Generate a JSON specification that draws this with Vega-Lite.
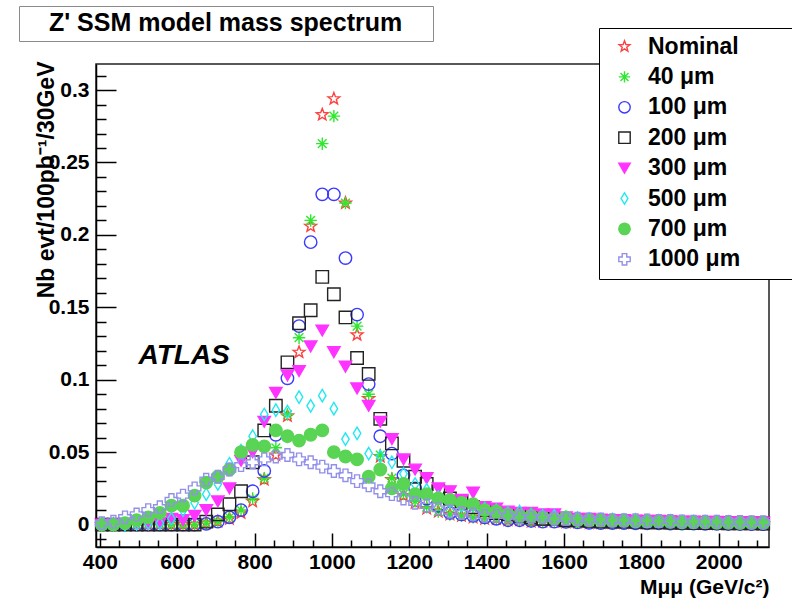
{
"$schema": "https://vega.github.io/schema/vega-lite/v6.json",
"background": "white",
"padding": {"left": 18, "top": 5, "right": 5, "bottom": 3},
"config": {"font": "Liberation Sans"},
"width": 673, "height": 483,
"view": {"stroke": "#222222", "strokeWidth": 1.5},
"resolve": {"axis": {"x": "independent", "y": "independent"}},
"datasets": {"pts": [
{"s":"Nominal","m":405,"v":0},{"s":"Nominal","m":435,"v":0},{"s":"Nominal","m":465,"v":0},{"s":"Nominal","m":495,"v":0},{"s":"Nominal","m":525,"v":0},{"s":"Nominal","m":555,"v":0},{"s":"Nominal","m":585,"v":0},{"s":"Nominal","m":615,"v":0},{"s":"Nominal","m":645,"v":0},{"s":"Nominal","m":675,"v":0.001},
{"s":"Nominal","m":705,"v":0.002},{"s":"Nominal","m":735,"v":0.004},{"s":"Nominal","m":765,"v":0.008},{"s":"Nominal","m":795,"v":0.016},{"s":"Nominal","m":825,"v":0.031},{"s":"Nominal","m":855,"v":0.048},{"s":"Nominal","m":885,"v":0.075},{"s":"Nominal","m":915,"v":0.119},{"s":"Nominal","m":945,"v":0.206},{"s":"Nominal","m":975,"v":0.283},
{"s":"Nominal","m":1005,"v":0.294},{"s":"Nominal","m":1035,"v":0.222},{"s":"Nominal","m":1065,"v":0.131},{"s":"Nominal","m":1095,"v":0.087},{"s":"Nominal","m":1125,"v":0.047},{"s":"Nominal","m":1155,"v":0.031},{"s":"Nominal","m":1185,"v":0.020},{"s":"Nominal","m":1215,"v":0.015},{"s":"Nominal","m":1245,"v":0.011},{"s":"Nominal","m":1275,"v":0.009},
{"s":"Nominal","m":1305,"v":0.007},{"s":"Nominal","m":1335,"v":0.006},{"s":"Nominal","m":1365,"v":0.005},{"s":"Nominal","m":1395,"v":0.004},{"s":"Nominal","m":1425,"v":0.004},{"s":"Nominal","m":1455,"v":0.003},{"s":"Nominal","m":1485,"v":0.003},{"s":"Nominal","m":1515,"v":0.002},{"s":"Nominal","m":1545,"v":0.002},{"s":"Nominal","m":1575,"v":0.002},
{"s":"Nominal","m":1605,"v":0.0015},{"s":"Nominal","m":1635,"v":0.0015},{"s":"Nominal","m":1665,"v":0.001},{"s":"Nominal","m":1695,"v":0.001},{"s":"Nominal","m":1725,"v":0.001},{"s":"Nominal","m":1755,"v":0.001},{"s":"Nominal","m":1785,"v":0.001},{"s":"Nominal","m":1815,"v":0.0008},{"s":"Nominal","m":1845,"v":0.0008},{"s":"Nominal","m":1875,"v":0.0006},
{"s":"Nominal","m":1905,"v":0.0006},{"s":"Nominal","m":1935,"v":0.0005},{"s":"Nominal","m":1965,"v":0.0005},{"s":"Nominal","m":1995,"v":0.0004},{"s":"Nominal","m":2025,"v":0.0004},{"s":"Nominal","m":2055,"v":0.0003},{"s":"Nominal","m":2085,"v":0.0003},{"s":"Nominal","m":2115,"v":0.0003},
{"s":"40 μm","m":405,"v":0},{"s":"40 μm","m":435,"v":0},{"s":"40 μm","m":465,"v":0},{"s":"40 μm","m":495,"v":0},{"s":"40 μm","m":525,"v":0},{"s":"40 μm","m":555,"v":0},{"s":"40 μm","m":585,"v":0},{"s":"40 μm","m":615,"v":0},{"s":"40 μm","m":645,"v":0},{"s":"40 μm","m":675,"v":0.001},
{"s":"40 μm","m":705,"v":0.002},{"s":"40 μm","m":735,"v":0.005},{"s":"40 μm","m":765,"v":0.010},{"s":"40 μm","m":795,"v":0.018},{"s":"40 μm","m":825,"v":0.032},{"s":"40 μm","m":855,"v":0.053},{"s":"40 μm","m":885,"v":0.076},{"s":"40 μm","m":915,"v":0.129},{"s":"40 μm","m":945,"v":0.210},{"s":"40 μm","m":975,"v":0.263},
{"s":"40 μm","m":1005,"v":0.282},{"s":"40 μm","m":1035,"v":0.222},{"s":"40 μm","m":1065,"v":0.137},{"s":"40 μm","m":1095,"v":0.090},{"s":"40 μm","m":1125,"v":0.048},{"s":"40 μm","m":1155,"v":0.032},{"s":"40 μm","m":1185,"v":0.021},{"s":"40 μm","m":1215,"v":0.016},{"s":"40 μm","m":1245,"v":0.012},{"s":"40 μm","m":1275,"v":0.009},
{"s":"40 μm","m":1305,"v":0.007},{"s":"40 μm","m":1335,"v":0.006},{"s":"40 μm","m":1365,"v":0.005},{"s":"40 μm","m":1395,"v":0.004},{"s":"40 μm","m":1425,"v":0.004},{"s":"40 μm","m":1455,"v":0.003},{"s":"40 μm","m":1485,"v":0.003},{"s":"40 μm","m":1515,"v":0.002},{"s":"40 μm","m":1545,"v":0.002},{"s":"40 μm","m":1575,"v":0.002},
{"s":"40 μm","m":1605,"v":0.0015},{"s":"40 μm","m":1635,"v":0.0015},{"s":"40 μm","m":1665,"v":0.001},{"s":"40 μm","m":1695,"v":0.001},{"s":"40 μm","m":1725,"v":0.001},{"s":"40 μm","m":1755,"v":0.001},{"s":"40 μm","m":1785,"v":0.001},{"s":"40 μm","m":1815,"v":0.0008},{"s":"40 μm","m":1845,"v":0.0008},{"s":"40 μm","m":1875,"v":0.0006},
{"s":"40 μm","m":1905,"v":0.0006},{"s":"40 μm","m":1935,"v":0.0005},{"s":"40 μm","m":1965,"v":0.0005},{"s":"40 μm","m":1995,"v":0.0004},{"s":"40 μm","m":2025,"v":0.0004},{"s":"40 μm","m":2055,"v":0.0003},{"s":"40 μm","m":2085,"v":0.0003},{"s":"40 μm","m":2115,"v":0.0003},
{"s":"100 μm","m":405,"v":0},{"s":"100 μm","m":435,"v":0},{"s":"100 μm","m":465,"v":0},{"s":"100 μm","m":495,"v":0},{"s":"100 μm","m":525,"v":0},{"s":"100 μm","m":555,"v":0},{"s":"100 μm","m":585,"v":0},{"s":"100 μm","m":615,"v":0},{"s":"100 μm","m":645,"v":0},{"s":"100 μm","m":675,"v":0.0005},
{"s":"100 μm","m":705,"v":0.002},{"s":"100 μm","m":735,"v":0.005},{"s":"100 μm","m":765,"v":0.010},{"s":"100 μm","m":795,"v":0.023},{"s":"100 μm","m":825,"v":0.037},{"s":"100 μm","m":855,"v":0.062},{"s":"100 μm","m":885,"v":0.101},{"s":"100 μm","m":915,"v":0.137},{"s":"100 μm","m":945,"v":0.195},{"s":"100 μm","m":975,"v":0.228},
{"s":"100 μm","m":1005,"v":0.228},{"s":"100 μm","m":1035,"v":0.184},{"s":"100 μm","m":1065,"v":0.145},{"s":"100 μm","m":1095,"v":0.097},{"s":"100 μm","m":1125,"v":0.061},{"s":"100 μm","m":1155,"v":0.049},{"s":"100 μm","m":1185,"v":0.034},{"s":"100 μm","m":1215,"v":0.025},{"s":"100 μm","m":1245,"v":0.018},{"s":"100 μm","m":1275,"v":0.013},
{"s":"100 μm","m":1305,"v":0.008},{"s":"100 μm","m":1335,"v":0.007},{"s":"100 μm","m":1365,"v":0.006},{"s":"100 μm","m":1395,"v":0.005},{"s":"100 μm","m":1425,"v":0.004},{"s":"100 μm","m":1455,"v":0.003},{"s":"100 μm","m":1485,"v":0.003},{"s":"100 μm","m":1515,"v":0.0025},{"s":"100 μm","m":1545,"v":0.002},{"s":"100 μm","m":1575,"v":0.002},
{"s":"100 μm","m":1605,"v":0.0018},{"s":"100 μm","m":1635,"v":0.0015},{"s":"100 μm","m":1665,"v":0.0012},{"s":"100 μm","m":1695,"v":0.001},{"s":"100 μm","m":1725,"v":0.001},{"s":"100 μm","m":1755,"v":0.001},{"s":"100 μm","m":1785,"v":0.0009},{"s":"100 μm","m":1815,"v":0.0008},{"s":"100 μm","m":1845,"v":0.0008},{"s":"100 μm","m":1875,"v":0.0007},
{"s":"100 μm","m":1905,"v":0.0006},{"s":"100 μm","m":1935,"v":0.0006},{"s":"100 μm","m":1965,"v":0.0005},{"s":"100 μm","m":1995,"v":0.0005},{"s":"100 μm","m":2025,"v":0.0004},{"s":"100 μm","m":2055,"v":0.0004},{"s":"100 μm","m":2085,"v":0.0003},{"s":"100 μm","m":2115,"v":0.0003},
{"s":"200 μm","m":405,"v":0},{"s":"200 μm","m":435,"v":0},{"s":"200 μm","m":465,"v":0},{"s":"200 μm","m":495,"v":0},{"s":"200 μm","m":525,"v":0},{"s":"200 μm","m":555,"v":0},{"s":"200 μm","m":585,"v":0},{"s":"200 μm","m":615,"v":0},{"s":"200 μm","m":645,"v":0},{"s":"200 μm","m":675,"v":0.002},
{"s":"200 μm","m":705,"v":0.007},{"s":"200 μm","m":735,"v":0.014},{"s":"200 μm","m":765,"v":0.023},{"s":"200 μm","m":795,"v":0.043},{"s":"200 μm","m":825,"v":0.065},{"s":"200 μm","m":855,"v":0.082},{"s":"200 μm","m":885,"v":0.112},{"s":"200 μm","m":915,"v":0.139},{"s":"200 μm","m":945,"v":0.148},{"s":"200 μm","m":975,"v":0.171},
{"s":"200 μm","m":1005,"v":0.159},{"s":"200 μm","m":1035,"v":0.143},{"s":"200 μm","m":1065,"v":0.115},{"s":"200 μm","m":1095,"v":0.104},{"s":"200 μm","m":1125,"v":0.073},{"s":"200 μm","m":1155,"v":0.056},{"s":"200 μm","m":1185,"v":0.044},{"s":"200 μm","m":1215,"v":0.033},{"s":"200 μm","m":1245,"v":0.028},{"s":"200 μm","m":1275,"v":0.023},
{"s":"200 μm","m":1305,"v":0.018},{"s":"200 μm","m":1335,"v":0.016},{"s":"200 μm","m":1365,"v":0.012},{"s":"200 μm","m":1395,"v":0.010},{"s":"200 μm","m":1425,"v":0.008},{"s":"200 μm","m":1455,"v":0.007},{"s":"200 μm","m":1485,"v":0.006},{"s":"200 μm","m":1515,"v":0.005},{"s":"200 μm","m":1545,"v":0.004},{"s":"200 μm","m":1575,"v":0.004},
{"s":"200 μm","m":1605,"v":0.003},{"s":"200 μm","m":1635,"v":0.003},{"s":"200 μm","m":1665,"v":0.0025},{"s":"200 μm","m":1695,"v":0.002},{"s":"200 μm","m":1725,"v":0.002},{"s":"200 μm","m":1755,"v":0.002},{"s":"200 μm","m":1785,"v":0.0018},{"s":"200 μm","m":1815,"v":0.0015},{"s":"200 μm","m":1845,"v":0.0015},{"s":"200 μm","m":1875,"v":0.0013},
{"s":"200 μm","m":1905,"v":0.0012},{"s":"200 μm","m":1935,"v":0.001},{"s":"200 μm","m":1965,"v":0.001},{"s":"200 μm","m":1995,"v":0.001},{"s":"200 μm","m":2025,"v":0.0009},{"s":"200 μm","m":2055,"v":0.0008},{"s":"200 μm","m":2085,"v":0.0008},{"s":"200 μm","m":2115,"v":0.0007},
{"s":"300 μm","m":405,"v":0},{"s":"300 μm","m":435,"v":0},{"s":"300 μm","m":465,"v":0},{"s":"300 μm","m":495,"v":0},{"s":"300 μm","m":525,"v":0},{"s":"300 μm","m":555,"v":0.001},{"s":"300 μm","m":585,"v":0.004},{"s":"300 μm","m":615,"v":0.003},{"s":"300 μm","m":645,"v":0.006},{"s":"300 μm","m":675,"v":0.010},
{"s":"300 μm","m":705,"v":0.016},{"s":"300 μm","m":735,"v":0.025},{"s":"300 μm","m":765,"v":0.044},{"s":"300 μm","m":795,"v":0.050},{"s":"300 μm","m":825,"v":0.071},{"s":"300 μm","m":855,"v":0.091},{"s":"300 μm","m":885,"v":0.103},{"s":"300 μm","m":915,"v":0.106},{"s":"300 μm","m":945,"v":0.123},{"s":"300 μm","m":975,"v":0.134},
{"s":"300 μm","m":1005,"v":0.119},{"s":"300 μm","m":1035,"v":0.109},{"s":"300 μm","m":1065,"v":0.094},{"s":"300 μm","m":1095,"v":0.082},{"s":"300 μm","m":1125,"v":0.071},{"s":"300 μm","m":1155,"v":0.059},{"s":"300 μm","m":1185,"v":0.045},{"s":"300 μm","m":1215,"v":0.038},{"s":"300 μm","m":1245,"v":0.032},{"s":"300 μm","m":1275,"v":0.025},
{"s":"300 μm","m":1305,"v":0.023},{"s":"300 μm","m":1335,"v":0.017},{"s":"300 μm","m":1365,"v":0.022},{"s":"300 μm","m":1395,"v":0.012},{"s":"300 μm","m":1425,"v":0.011},{"s":"300 μm","m":1455,"v":0.009},{"s":"300 μm","m":1485,"v":0.008},{"s":"300 μm","m":1515,"v":0.008},{"s":"300 μm","m":1545,"v":0.007},{"s":"300 μm","m":1575,"v":0.007},
{"s":"300 μm","m":1605,"v":0.005},{"s":"300 μm","m":1635,"v":0.004},{"s":"300 μm","m":1665,"v":0.004},{"s":"300 μm","m":1695,"v":0.0035},{"s":"300 μm","m":1725,"v":0.003},{"s":"300 μm","m":1755,"v":0.003},{"s":"300 μm","m":1785,"v":0.0028},{"s":"300 μm","m":1815,"v":0.0025},{"s":"300 μm","m":1845,"v":0.0025},{"s":"300 μm","m":1875,"v":0.0022},
{"s":"300 μm","m":1905,"v":0.002},{"s":"300 μm","m":1935,"v":0.002},{"s":"300 μm","m":1965,"v":0.0018},{"s":"300 μm","m":1995,"v":0.0018},{"s":"300 μm","m":2025,"v":0.0016},{"s":"300 μm","m":2055,"v":0.0015},{"s":"300 μm","m":2085,"v":0.0015},{"s":"300 μm","m":2115,"v":0.0014},
{"s":"500 μm","m":405,"v":0},{"s":"500 μm","m":435,"v":0},{"s":"500 μm","m":465,"v":0},{"s":"500 μm","m":495,"v":0.0005},{"s":"500 μm","m":525,"v":0.001},{"s":"500 μm","m":555,"v":0.001},{"s":"500 μm","m":585,"v":0.004},{"s":"500 μm","m":615,"v":0.010},{"s":"500 μm","m":645,"v":0.015},{"s":"500 μm","m":675,"v":0.021},
{"s":"500 μm","m":705,"v":0.028},{"s":"500 μm","m":735,"v":0.042},{"s":"500 μm","m":765,"v":0.051},{"s":"500 μm","m":795,"v":0.061},{"s":"500 μm","m":825,"v":0.076},{"s":"500 μm","m":855,"v":0.079},{"s":"500 μm","m":885,"v":0.078},{"s":"500 μm","m":915,"v":0.088},{"s":"500 μm","m":945,"v":0.082},{"s":"500 μm","m":975,"v":0.089},
{"s":"500 μm","m":1005,"v":0.080},{"s":"500 μm","m":1035,"v":0.059},{"s":"500 μm","m":1065,"v":0.063},{"s":"500 μm","m":1095,"v":0.049},{"s":"500 μm","m":1125,"v":0.047},{"s":"500 μm","m":1155,"v":0.043},{"s":"500 μm","m":1185,"v":0.035},{"s":"500 μm","m":1215,"v":0.028},{"s":"500 μm","m":1245,"v":0.024},{"s":"500 μm","m":1275,"v":0.019},
{"s":"500 μm","m":1305,"v":0.016},{"s":"500 μm","m":1335,"v":0.013},{"s":"500 μm","m":1365,"v":0.013},{"s":"500 μm","m":1395,"v":0.011},{"s":"500 μm","m":1425,"v":0.010},{"s":"500 μm","m":1455,"v":0.008},{"s":"500 μm","m":1485,"v":0.009},{"s":"500 μm","m":1515,"v":0.007},{"s":"500 μm","m":1545,"v":0.006},{"s":"500 μm","m":1575,"v":0.006},
{"s":"500 μm","m":1605,"v":0.005},{"s":"500 μm","m":1635,"v":0.0045},{"s":"500 μm","m":1665,"v":0.004},{"s":"500 μm","m":1695,"v":0.0035},{"s":"500 μm","m":1725,"v":0.0035},{"s":"500 μm","m":1755,"v":0.003},{"s":"500 μm","m":1785,"v":0.003},{"s":"500 μm","m":1815,"v":0.0028},{"s":"500 μm","m":1845,"v":0.0025},{"s":"500 μm","m":1875,"v":0.0025},
{"s":"500 μm","m":1905,"v":0.0022},{"s":"500 μm","m":1935,"v":0.002},{"s":"500 μm","m":1965,"v":0.002},{"s":"500 μm","m":1995,"v":0.0018},{"s":"500 μm","m":2025,"v":0.0018},{"s":"500 μm","m":2055,"v":0.0016},{"s":"500 μm","m":2085,"v":0.0015},{"s":"500 μm","m":2115,"v":0.0015},
{"s":"700 μm","m":405,"v":0},{"s":"700 μm","m":435,"v":0},{"s":"700 μm","m":465,"v":0.001},{"s":"700 μm","m":495,"v":0.003},{"s":"700 μm","m":525,"v":0.005},{"s":"700 μm","m":555,"v":0.008},{"s":"700 μm","m":585,"v":0.013},{"s":"700 μm","m":615,"v":0.013},{"s":"700 μm","m":645,"v":0.020},{"s":"700 μm","m":675,"v":0.029},
{"s":"700 μm","m":705,"v":0.033},{"s":"700 μm","m":735,"v":0.038},{"s":"700 μm","m":765,"v":0.050},{"s":"700 μm","m":795,"v":0.055},{"s":"700 μm","m":825,"v":0.054},{"s":"700 μm","m":855,"v":0.065},{"s":"700 μm","m":885,"v":0.061},{"s":"700 μm","m":915,"v":0.058},{"s":"700 μm","m":945,"v":0.062},{"s":"700 μm","m":975,"v":0.065},
{"s":"700 μm","m":1005,"v":0.050},{"s":"700 μm","m":1035,"v":0.047},{"s":"700 μm","m":1065,"v":0.045},{"s":"700 μm","m":1095,"v":0.033},{"s":"700 μm","m":1125,"v":0.038},{"s":"700 μm","m":1155,"v":0.025},{"s":"700 μm","m":1185,"v":0.028},{"s":"700 μm","m":1215,"v":0.021},{"s":"700 μm","m":1245,"v":0.021},{"s":"700 μm","m":1275,"v":0.018},
{"s":"700 μm","m":1305,"v":0.017},{"s":"700 μm","m":1335,"v":0.015},{"s":"700 μm","m":1365,"v":0.014},{"s":"700 μm","m":1395,"v":0.010},{"s":"700 μm","m":1425,"v":0.009},{"s":"700 μm","m":1455,"v":0.007},{"s":"700 μm","m":1485,"v":0.006},{"s":"700 μm","m":1515,"v":0.006},{"s":"700 μm","m":1545,"v":0.005},{"s":"700 μm","m":1575,"v":0.004},
{"s":"700 μm","m":1605,"v":0.005},{"s":"700 μm","m":1635,"v":0.003},{"s":"700 μm","m":1665,"v":0.003},{"s":"700 μm","m":1695,"v":0.003},{"s":"700 μm","m":1725,"v":0.0025},{"s":"700 μm","m":1755,"v":0.0025},{"s":"700 μm","m":1785,"v":0.002},{"s":"700 μm","m":1815,"v":0.002},{"s":"700 μm","m":1845,"v":0.002},{"s":"700 μm","m":1875,"v":0.0018},
{"s":"700 μm","m":1905,"v":0.0015},{"s":"700 μm","m":1935,"v":0.0015},{"s":"700 μm","m":1965,"v":0.0015},{"s":"700 μm","m":1995,"v":0.0012},{"s":"700 μm","m":2025,"v":0.0012},{"s":"700 μm","m":2055,"v":0.001},{"s":"700 μm","m":2085,"v":0.001},{"s":"700 μm","m":2115,"v":0.001},
{"s":"1000 μm","m":405,"v":0.001},{"s":"1000 μm","m":435,"v":0.002},{"s":"1000 μm","m":465,"v":0.005},{"s":"1000 μm","m":495,"v":0.007},{"s":"1000 μm","m":525,"v":0.010},{"s":"1000 μm","m":555,"v":0.012},{"s":"1000 μm","m":585,"v":0.017},{"s":"1000 μm","m":615,"v":0.020},{"s":"1000 μm","m":645,"v":0.025},{"s":"1000 μm","m":675,"v":0.031},
{"s":"1000 μm","m":705,"v":0.033},{"s":"1000 μm","m":735,"v":0.038},{"s":"1000 μm","m":765,"v":0.041},{"s":"1000 μm","m":795,"v":0.043},{"s":"1000 μm","m":825,"v":0.045},{"s":"1000 μm","m":855,"v":0.047},{"s":"1000 μm","m":885,"v":0.048},{"s":"1000 μm","m":915,"v":0.045},{"s":"1000 μm","m":945,"v":0.043},{"s":"1000 μm","m":975,"v":0.040},
{"s":"1000 μm","m":1005,"v":0.037},{"s":"1000 μm","m":1035,"v":0.034},{"s":"1000 μm","m":1065,"v":0.030},{"s":"1000 μm","m":1095,"v":0.027},{"s":"1000 μm","m":1125,"v":0.023},{"s":"1000 μm","m":1155,"v":0.021},{"s":"1000 μm","m":1185,"v":0.018},{"s":"1000 μm","m":1215,"v":0.015},{"s":"1000 μm","m":1245,"v":0.013},{"s":"1000 μm","m":1275,"v":0.011},
{"s":"1000 μm","m":1305,"v":0.009},{"s":"1000 μm","m":1335,"v":0.008},{"s":"1000 μm","m":1365,"v":0.007},{"s":"1000 μm","m":1395,"v":0.006},{"s":"1000 μm","m":1425,"v":0.006},{"s":"1000 μm","m":1455,"v":0.006},{"s":"1000 μm","m":1485,"v":0.005},{"s":"1000 μm","m":1515,"v":0.005},{"s":"1000 μm","m":1545,"v":0.005},{"s":"1000 μm","m":1575,"v":0.004},
{"s":"1000 μm","m":1605,"v":0.004},{"s":"1000 μm","m":1635,"v":0.004},{"s":"1000 μm","m":1665,"v":0.0035},{"s":"1000 μm","m":1695,"v":0.0035},{"s":"1000 μm","m":1725,"v":0.003},{"s":"1000 μm","m":1755,"v":0.003},{"s":"1000 μm","m":1785,"v":0.003},{"s":"1000 μm","m":1815,"v":0.0028},{"s":"1000 μm","m":1845,"v":0.0025},{"s":"1000 μm","m":1875,"v":0.0025},
{"s":"1000 μm","m":1905,"v":0.0022},{"s":"1000 μm","m":1935,"v":0.002},{"s":"1000 μm","m":1965,"v":0.002},{"s":"1000 μm","m":1995,"v":0.002},{"s":"1000 μm","m":2025,"v":0.0018},{"s":"1000 μm","m":2055,"v":0.0018},{"s":"1000 μm","m":2085,"v":0.0016},{"s":"1000 μm","m":2115,"v":0.0016}
]},
"layer": [
{
"data": {"name": "pts"},
"mark": {"type": "point", "size": 155, "strokeWidth": 1.4, "opacity": 1},
"encoding": {
"x": {"field": "m", "type": "quantitative",
"scale": {"domain": [390, 2130], "nice": false, "zero": false},
"axis": {"orient": "bottom", "values": [400,600,800,1000,1200,1400,1600,1800,2000], "format": "d", "grid": false,
"tickSize": -14, "tickWidth": 1.5, "tickColor": "black", "domainColor": "black", "domainWidth": 1.5,
"labelFont": "Liberation Sans", "labelFontWeight": "bold", "labelFontSize": 21, "labelColor": "black",
"labelPadding": 18, "labelFlush": false, "labelOverlap": false,
"title": "Mμμ (GeV/c²)", "titleFont": "Liberation Sans", "titleFontWeight": "bold", "titleFontSize": 21, "titleColor": "black",
"titleX": 673, "titleY": 46, "titleAlign": "right", "titleBaseline": "alphabetic", "titleAngle": 0}},
"y": {"field": "v", "type": "quantitative",
"scale": {"domain": [-0.0155, 0.318], "nice": false, "zero": false},
"axis": {"orient": "left", "values": [0,0.05,0.1,0.15,0.2,0.25,0.3], "format": "~g", "grid": false,
"tickSize": -20, "tickWidth": 1.5, "tickColor": "black", "domainColor": "black", "domainWidth": 1.5,
"labelFont": "Liberation Sans", "labelFontWeight": "bold", "labelFontSize": 21, "labelColor": "black",
"labelPadding": 27, "labelFlush": false, "labelOverlap": false,
"title": "Nb evt/100pb⁻¹/30GeV", "titleFont": "Liberation Sans", "titleFontWeight": "bold", "titleFontSize": 23, "titleColor": "black",
"titleX": -50, "titleY": -3, "titleAngle": -90, "titleAlign": "right", "titleBaseline": "middle"}},
"shape": {"field": "s", "type": "nominal",
"scale": {"domain": ["Nominal","40 μm","100 μm","200 μm","300 μm","500 μm","700 μm","1000 μm"],
"range": ["M0,-1L0.247,-0.34L0.951,-0.309L0.399,0.13L0.588,0.809L0,0.42L-0.588,0.809L-0.399,0.13L-0.951,-0.309L-0.247,-0.34Z",
"M0,-1L0,1M-1,0L1,0M-0.7,-0.7L0.7,0.7M-0.7,0.7L0.7,-0.7",
"circle","square","triangle-down","M0,-1L0.6,0L0,1L-0.6,0Z","circle","cross"]},
"legend": {"title": null, "orient": "none", "legendX": 503, "legendY": -36,
"strokeColor": "black", "fillColor": "white", "padding": 7,
"symbolOffset": 7, "labelOffset": 12, "rowPadding": 6.4, "symbolSize": 130, "symbolStrokeWidth": 1.4,
"labelFont": "Liberation Sans", "labelFontWeight": "bold", "labelFontSize": 23, "labelColor": "black", "labelLimit": 0,
"labelExpr": "datum.label + '\u2800\u2800\u2800'"}},
"fill": {"field": "s", "type": "nominal",
"scale": {"domain": ["Nominal","40 μm","100 μm","200 μm","300 μm","500 μm","700 μm","1000 μm"],
"range": ["transparent","transparent","transparent","transparent","#ff33ff","transparent","#59d454","transparent"]}},
"stroke": {"field": "s", "type": "nominal",
"scale": {"domain": ["Nominal","40 μm","100 μm","200 μm","300 μm","500 μm","700 μm","1000 μm"],
"range": ["#ff4040","#2ee82e","#3a3aff","#222222","#ff33ff","#22e8f0","#59d454","#9290ea"]}}
}
},
{
"data": {"name": "pts"},
"mark": {"type": "point", "opacity": 0},
"encoding": {
"x": {"field": "m", "type": "quantitative",
"axis": {"orient": "bottom", "values": [450,500,550,650,700,750,850,900,950,1050,1100,1150,1250,1300,1350,1450,1500,1550,1650,1700,1750,1850,1900,1950,2050,2100],
"labels": false, "domain": false, "grid": false, "tickSize": -7, "tickWidth": 1.5, "tickColor": "black", "title": null}},
"y": {"field": "v", "type": "quantitative",
"axis": {"orient": "left", "values": [-0.01,0.01,0.02,0.03,0.04,0.06,0.07,0.08,0.09,0.11,0.12,0.13,0.14,0.16,0.17,0.18,0.19,0.21,0.22,0.23,0.24,0.26,0.27,0.28,0.29,0.31],
"labels": false, "domain": false, "grid": false, "tickSize": -10, "tickWidth": 1.5, "tickColor": "black", "title": null}},
"size": {"field": "v", "type": "quantitative",
"legend": {"values": [], "title": "\u2800\u00a0Z' SSM model mass spectrum\u00a0\u2800", "orient": "none", "legendX": -77, "legendY": -58,
"strokeColor": "#8a8a8a", "fillColor": "white", "padding": 5, "titlePadding": 0,
"titleFont": "Liberation Sans", "titleFontWeight": "bold", "titleFontSize": 25, "titleColor": "black", "titleLimit": 0,
"symbolOpacity": 0, "labelOpacity": 0}}
}
},
{
"data": {"values": [{"m": 500, "v": 0.1165, "t": "ATLAS"}]},
"mark": {"type": "text", "align": "left", "baseline": "middle", "font": "Liberation Sans", "fontWeight": "bold", "fontStyle": "italic", "fontSize": 28, "color": "black"},
"encoding": {
"x": {"field": "m", "type": "quantitative", "axis": null},
"y": {"field": "v", "type": "quantitative", "axis": null},
"text": {"field": "t"}
}
}
]
}
